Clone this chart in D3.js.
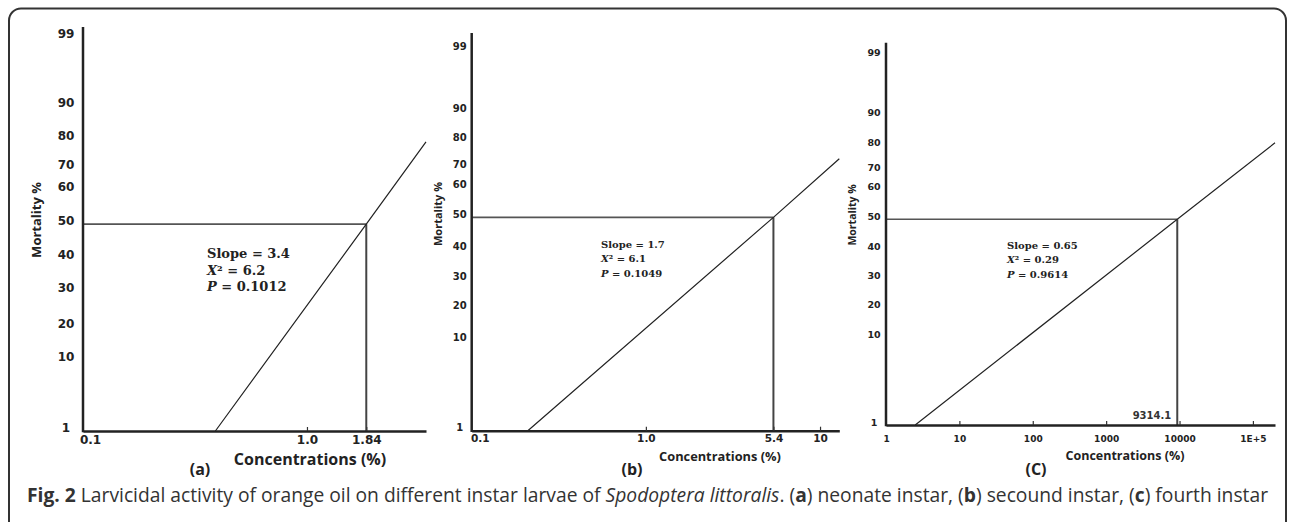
<!DOCTYPE html>
<html lang="en">
<head>
<meta charset="UTF-8">
<title>Fig. 2 Larvicidal activity of orange oil</title>
<script src="https://d3js.org/d3.v7.min.js"></script>
<style>
    body { margin: 0; background: #fff; }
    svg { display: block; }
    .tick text { font-family: "DejaVu Sans", Verdana, sans-serif; font-weight: bold; fill: #222; }
    .title { font-family: "Open Sans", sans-serif; font-weight: bold; fill: #222; }
    .stats { font-family: "DejaVu Serif", serif; font-weight: bold; fill: #222; }
    .caption { font-family: "Open Sans", sans-serif; fill: #333; }
</style>
</head>
<body>
<svg width="1290" height="522"></svg>
<script>
// ---- data ----
const mortalityTicks = [1, 10, 20, 30, 40, 50, 60, 70, 80, 90, 99];

// (a) neonate instar
const concTicksA = [0.1, 1, 1.84];
const concLabelsA = ["0.1", "1.0", "1.84"];
const probitA = [[0.39, 1], [1.84, 50], [3.4, 79]];
const lc50A = 1.84;
const statsA = ["3.4", "6.2", "0.1012"];

// (b) second instar
const concTicksB = [0.1, 1, 5.4, 10];
const concLabelsB = ["0.1", "1.0", "5.4", "10"];
const probitB = [[0.21, 1], [5.4, 50], [12.9, 73]];
const lc50B = 5.4;
const statsB = ["1.7", "6.1", "0.1049"];

// (c) fourth instar
const concTicksC = [1, 10, 100, 1000, 10000, 100000];
const concLabelsC = ["1", "10", "100", "1000", "10000", "1E+5"];
const probitC = [[2.5, 1], [9314.1, 50], [200000, 81]];
const lc50C = 9314.1;
const lc50LabelC = "9314.1";
const statsC = ["0.65", "0.29", "0.9614"];

const panelTags = ["(a)", "(b)", "(C)"];

// ---- layout ----
// the mortality axis in the figure is hand spaced, so each panel gets its own stops (fraction of 1..99 span)
const panels = [
    { ticks: concTicksA, labels: concLabelsA, probit: probitA, lc50: lc50A, stats: statsA, tag: panelTags[0],
      x0: 83, x1: 426, top: 27, y1: 431, y99: 37,
      stops: [0, 0.180, 0.266, 0.355, 0.439, 0.525, 0.612, 0.668, 0.741, 0.827, 1],
      yFs: 12, yOff: 17, xFs: 12, xPad: 4.5, firstShift: 7,
      yTitle: [36, 220, 13], xTitle: [310, 459, 16], tagPos: [200, 469],
      statPos: [207, 253, 13, 16.5] },
    { ticks: concTicksB, labels: concLabelsB, probit: probitB, lc50: lc50B, stats: statsB, tag: panelTags[1],
      x0: 471.7, x1: 839.3, top: 33, y1: 430.7, y99: 49,
      stops: [0, 0.238, 0.321, 0.397, 0.476, 0.559, 0.638, 0.691, 0.762, 0.838, 1],
      yFs: 10, yOff: 12, xFs: 10.5, xPad: 3.8, firstShift: 8,
      yTitle: [437, 214, 11], xTitle: [720, 456, 12.8], tagPos: [632, 469],
      statPos: [601, 243.5, 10, 14.7] },
    { ticks: concTicksC, labels: concLabelsC, probit: probitC, lc50: lc50C, stats: statsC, tag: panelTags[2],
      x0: 886, x1: 1275, top: 42.7, y1: 425, y99: 55.7,
      stops: [0, 0.236, 0.317, 0.398, 0.475, 0.557, 0.637, 0.688, 0.756, 0.837, 1],
      yFs: 9.5, yOff: 12, xFs: 9, xPad: 11, firstShift: 0,
      yTitle: [852, 215, 10.5], xTitle: [1125, 455, 12.5], tagPos: [1036, 469],
      statPos: [1007, 244.5, 10, 14.7], lc50Label: lc50LabelC }
];

const svg = d3.select("svg");

// outer frame (bottom edge runs past the crop)
svg.append("rect")
    .attr("x", 9).attr("y", 8.5)
    .attr("width", 1277).attr("height", 540)
    .attr("rx", 12)
    .attr("fill", "none").attr("stroke", "#333").attr("stroke-width", 2);

panels.forEach(p => {
    const x = d3.scaleLog()
        .domain([p.ticks[0], p.probit[p.probit.length - 1][0]])
        .range([p.x0, p.x1]);
    const y = d3.scaleLinear()
        .domain(mortalityTicks)
        .range(p.stops.map(f => p.y1 - f * (p.y1 - p.y99)));

    const g = svg.append("g");

    // 50% guide lines
    g.append("line")
        .attr("x1", p.x0).attr("x2", x(p.lc50))
        .attr("y1", y(50)).attr("y2", y(50))
        .attr("stroke", "#555").attr("stroke-width", 1.6);
    g.append("line")
        .attr("x1", x(p.lc50)).attr("x2", x(p.lc50))
        .attr("y1", y(50)).attr("y2", y(1))
        .attr("stroke", "#444").attr("stroke-width", 2);

    // probit line
    g.append("path")
        .datum(p.probit)
        .attr("d", d3.line().x(d => x(d[0])).y(d => y(d[1])))
        .attr("fill", "none").attr("stroke", "#222").attr("stroke-width", 1.2);

    // x axis
    const xAxis = g.append("g")
        .attr("transform", `translate(0,${y(1)})`)
        .call(d3.axisBottom(x)
            .tickValues(p.ticks)
            .tickFormat((d, i) => p.labels[i])
            .tickSizeInner(-4).tickSizeOuter(0)
            .tickPadding(p.xPad));
    xAxis.select(".domain").attr("stroke", "#222").attr("stroke-width", 2.5);
    xAxis.selectAll(".tick line").attr("stroke", "#333").attr("stroke-width", 1.2)
        .filter((d, i) => i === 0).remove();
    xAxis.selectAll(".tick text").style("font-size", p.xFs + "px")
        .filter((d, i) => i === 0).attr("x", p.firstShift);
    xAxis.attr("font-family", null).attr("font-size", null);

    // y axis
    const yAxis = g.append("g")
        .attr("transform", `translate(${p.x0},0)`)
        .call(d3.axisLeft(y).tickValues(mortalityTicks).tickSize(0).tickPadding(p.yOff));
    yAxis.select(".domain").remove();
    yAxis.selectAll(".tick text")
        .attr("text-anchor", "middle").attr("y", -3)
        .style("font-size", p.yFs + "px");
    yAxis.attr("font-family", null).attr("font-size", null);
    g.append("line")
        .attr("x1", p.x0).attr("x2", p.x0)
        .attr("y1", p.top).attr("y2", y(1) + 1.2)
        .attr("stroke", "#222").attr("stroke-width", 2.5);

    // axis titles
    g.append("text").attr("class", "title")
        .attr("transform", `translate(${p.yTitle[0]},${p.yTitle[1]}) rotate(-90)`)
        .attr("text-anchor", "middle").attr("dominant-baseline", "central")
        .style("font-size", p.yTitle[2] + "px")
        .text("Mortality %");
    g.append("text").attr("class", "title")
        .attr("x", p.xTitle[0]).attr("y", p.xTitle[1])
        .attr("text-anchor", "middle").attr("dominant-baseline", "central")
        .style("font-size", p.xTitle[2] + "px")
        .text("Concentrations (%)");
    g.append("text").attr("class", "title")
        .attr("x", p.tagPos[0]).attr("y", p.tagPos[1])
        .attr("text-anchor", "middle").attr("dominant-baseline", "central")
        .style("font-size", "16px")
        .text(p.tag);

    // regression statistics
    const st = g.append("text").attr("class", "stats")
        .attr("x", p.statPos[0]).attr("y", p.statPos[1])
        .attr("dominant-baseline", "central")
        .style("font-size", p.statPos[2] + "px");
    st.append("tspan").attr("x", p.statPos[0]).text("Slope = " + p.stats[0]);
    const chi = st.append("tspan").attr("x", p.statPos[0]).attr("dy", p.statPos[3]);
    chi.append("tspan").attr("font-style", "italic").text("X");
    chi.append("tspan").text("\u00b2 = " + p.stats[1]);
    const pv = st.append("tspan").attr("x", p.statPos[0]).attr("dy", p.statPos[3]);
    pv.append("tspan").attr("font-style", "italic").text("P");
    pv.append("tspan").text(" = " + p.stats[2]);

    if (p.lc50Label) {
        g.append("text")
            .attr("x", x(p.lc50) - 6).attr("y", y(1) - 10)
            .attr("text-anchor", "end").attr("dominant-baseline", "central")
            .style("font-family", "'DejaVu Sans', sans-serif")
            .style("font-weight", "bold").style("font-size", "10px").style("fill", "#333")
            .text(p.lc50Label);
    }
});

// caption
const caption = svg.append("text").attr("class", "caption")
    .attr("x", 27).attr("y", 502).style("font-size", "16px");
const parts = [
    ["Fig. 2", "bold"], [" Larvicidal activity of orange oil on different instar larvae of ", ""],
    ["Spodoptera littoralis", "italic"], [". (", ""], ["a", "bold"], [") neonate instar, (", ""],
    ["b", "bold"], [") secound instar, (", ""], ["c", "bold"], [") fourth instar", ""]
];
parts.forEach(([t, s]) => {
    const ts = caption.append("tspan").text(t);
    if (s === "bold") ts.attr("font-weight", "bold");
    if (s === "italic") ts.attr("font-style", "italic");
});
const capW = caption.node().getComputedTextLength();
caption.style("font-size", (16 * 1241 / capW) + "px");
</script>
</body>
</html>
